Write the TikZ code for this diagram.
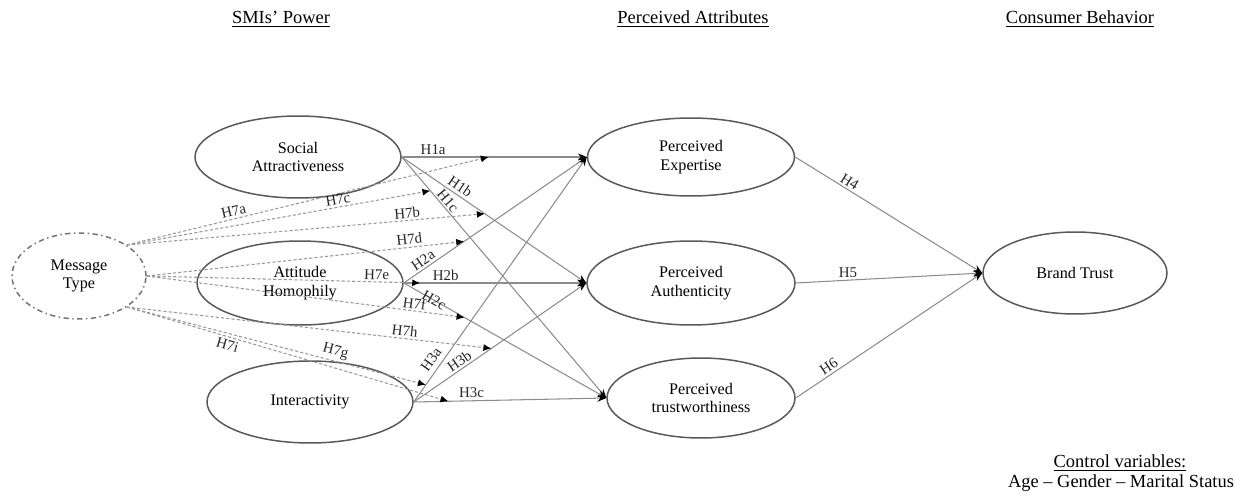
\documentclass[tikz,border=0pt]{standalone}
\usepackage{fontspec}
\setmainfont{Liberation Serif}
\usetikzlibrary{arrows.meta,shapes.geometric}
\begin{document}
\begin{tikzpicture}[x=0.02cm,y=-0.02cm,
  construct/.style={ellipse,draw=black!65,line width=0.85pt,inner sep=0pt,align=center,
    font=\fontsize{9.2}{10.5}\selectfont},
  pth/.style={draw=black!45,line width=0.6pt,-{Stealth[length=5pt,width=4pt,black]}},
  modline/.style={draw=black!40,line width=0.6pt,dash pattern=on 1.8pt off 1.2pt,
    -{Latex[length=4.5pt,width=4pt,black]}},
  lab/.style={font=\fontsize{8.5}{9}\selectfont,inner sep=0.3pt,text=black!85},
  head/.style={font=\fontsize{10.5}{12}\selectfont}]

\useasboundingbox (0,0) rectangle (1249,497);

% headers
\node[head] (h1) at (281,19) {\underline{SMIs’ Power}};
\node[head] (h2) at (693,19) {\underline{Perceived Attributes}};
\node[head] (h3) at (1080,19) {\underline{Consumer Behavior}};

% constructs
\node[construct,minimum width=4.12cm,minimum height=1.64cm] (SA) at (298,157) {Social\\Attractiveness};
\node[construct,minimum width=4.12cm,minimum height=1.68cm] (AH) at (300,283) {Attitude\\Homophily};
\node[construct,minimum width=4.12cm,minimum height=1.64cm] (IN) at (310,402) {Interactivity};
\node[construct,minimum width=2.68cm,minimum height=1.72cm,draw=black!55,
  dash pattern=on 3pt off 2pt on 0.8pt off 2pt] (MT) at (79,276) {Message\\Type};
\node[construct,minimum width=4.14cm,minimum height=1.56cm] (PE) at (691,157) {Perceived\\Expertise};
\node[construct,minimum width=4.16cm,minimum height=1.68cm] (PA) at (691,283) {Perceived\\Authenticity};
\node[construct,minimum width=3.76cm,minimum height=1.60cm] (PT) at (701,398) {Perceived\\trustworthiness};
\node[construct,minimum width=3.68cm,minimum height=1.64cm] (BT) at (1075,273) {Brand Trust};

% direct paths
\draw[pth] (SA.east) -- coordinate[pos=0.47] (m1a) node[lab,pos=0.17,above=1pt] (l1a) {H1a} (PE.west);
\draw[pth] (SA.east) -- coordinate[pos=0.45] (m1b) node[lab,pos=0.29,sloped,above=1.5pt] (l1b) {H1b} (PA.west);
\draw[pth] (SA.east) -- coordinate[pos=0.14] (m1c) node[lab,pos=0.2,sloped,above=0.5pt] (l1c) {H1c} (PT.west);
\draw[pth] (AH.east) -- coordinate[pos=0.33] (m2a) node[lab,pos=0.13,sloped,above=1pt] (l2a) {H2a} (PE.west);
\draw[pth] (AH.east) -- coordinate[pos=0.09] (m2b) node[lab,pos=0.23,above=1pt] (l2b) {H2b} (PA.west);
\draw[pth] (AH.east) -- coordinate[pos=0.30] (m2c) node[lab,pos=0.15,sloped] (l2c) {H2c} (PT.west);
\draw[pth] (IN.east) -- coordinate[pos=0.07] (m3a) node[lab,pos=0.15,sloped,above=2.5pt] (l3a) {H3a} (PE.west);
\draw[pth] (IN.east) -- coordinate[pos=0.45] (m3b) node[lab,pos=0.29,sloped,above=1pt] (l3b) {H3b} (PA.west);
\draw[pth] (IN.east) -- coordinate[pos=0.18] (m3c) node[lab,pos=0.30,above=1pt] (l3c) {H3c} (PT.west);
\draw[pth] (PE.east) -- node[lab,pos=0.27,sloped,above=1pt] (l4) {H4} (BT.west);
\draw[pth] (PA.east) -- node[lab,pos=0.28,above=1pt] (l5) {H5} (BT.west);
\draw[pth] (PT.east) -- node[lab,pos=0.2,sloped,above=1pt] (l6) {H6} (BT.west);

% moderation paths
\draw[modline] (MT.33) -- node[lab,pos=0.3,sloped,above=1pt] (l7a) {H7a} (m1a);
\draw[modline] (MT.33) -- node[lab,pos=0.70,sloped,above=1pt] (l7c) {H7c} (m1c);
\draw[modline] (MT.33) -- node[lab,pos=0.785,sloped,above=0.5pt] (l7b) {H7b} (m1b);
\draw[modline] (MT.east) -- node[lab,pos=0.83,sloped,above=1pt] (l7d) {H7d} (m2a);
\draw[modline] (MT.east) -- node[lab,pos=0.84,sloped,above=0.5pt] (l7e) {H7e} (m2b);
\draw[modline] (MT.east) -- node[lab,pos=0.84,sloped,above=0.5pt] (l7f) {H7f} (m2c);
\draw[modline] (MT.-33) -- node[lab,pos=0.76,sloped,above=1pt] (l7h) {H7h} (m3b);
\draw[modline] (MT.-33) -- node[lab,pos=0.69,sloped,above=1pt] (l7g) {H7g} (m3a);
\draw[modline] (MT.-33) -- node[lab,pos=0.32,sloped,below=1pt] (l7i) {H7i} (m3c);

% control variables
\node[head] (cv1) at (1120,463) {\underline{Control variables:}};
\node[head] (cv2) at (1121,483) {Age – Gender – Marital Status};
\end{tikzpicture}
\end{document}
